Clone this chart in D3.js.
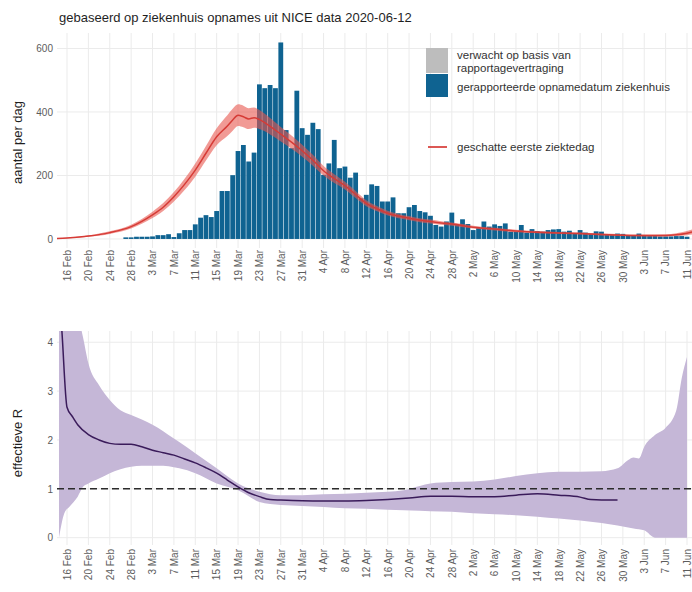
<!DOCTYPE html>
<html>
<head>
<meta charset="utf-8">
<script src="https://cdn.jsdelivr.net/npm/d3@7"></script>
<style>
  html, body { margin: 0; padding: 0; background: #fff; }
  svg { display: block; font-family: "Liberation Sans", Arial, sans-serif; }
</style>
</head>
<body>
<svg id="chart" width="692" height="592"></svg>
<script>
// ---------------- DATA ----------------
const titleText = "gebaseerd op ziekenhuis opnames uit NICE data 2020-06-12";
const baseDate = "2020-02-16"; // day 0

const tickDates = ["2020-02-16","2020-02-20","2020-02-24","2020-02-28","2020-03-03","2020-03-07","2020-03-11","2020-03-15","2020-03-19","2020-03-23","2020-03-27","2020-03-31","2020-04-04","2020-04-08","2020-04-12","2020-04-16","2020-04-20","2020-04-24","2020-04-28","2020-05-02","2020-05-06","2020-05-10","2020-05-14","2020-05-18","2020-05-22","2020-05-26","2020-05-30","2020-06-03","2020-06-07","2020-06-11"];
const tickLabels = ["16 Feb","20 Feb","24 Feb","28 Feb","3 Mar","7 Mar","11 Mar","15 Mar","19 Mar","23 Mar","27 Mar","31 Mar","4 Apr","8 Apr","12 Apr","16 Apr","20 Apr","24 Apr","28 Apr","2 May","6 May","10 May","14 May","18 May","22 May","26 May","30 May","3 Jun","7 Jun","11 Jun"];

const countTicks = [0, 200, 400, 600];
const rTicks = [0, 1, 2, 3, 4];

// daily hospital admissions by reported admission date, starting 2020-02-27
const barStart = "2020-02-27";
const admissions = [5,5,7,7,7,8,12,12,15,6,18,28,28,46,67,75,69,88,151,151,201,277,296,244,272,
  487,475,485,475,619,343,286,467,349,328,366,346,202,238,312,223,228,193,209,128,139,172,167,118,118,131,
  81,81,100,107,88,84,73,44,39,55,83,44,62,47,28,34,55,39,46,41,49,23,23,44,20,31,
  25,23,28,30,31,23,26,18,28,20,16,24,23,15,13,17,16,12,12,17,11,9,9,8,8,8,9,9,7];

// estimated first day of illness (days since baseDate), mean + band
const onsetDay  = [-2,0,4,8,12,16,18,20,22,24,26,28,30,31,32,33,34,35,36,38,40,42,44,46,48,50,52,54,56,58,60,62,64,66,68,70,72,76,80,84,88,92,96,100,104,108,112,114,116,117];
const onsetMean = [1,3,9,20,39,76,100,133,172,217,270,322,356,375,390,385,378,382,376,355,330,305,278,248,215,190,168,140,112,95,81,72,65,59,55,50,47,37,31,25,21,19,17,14,12,11,11,13,18,22];
const onsetLow  = [0,2,7,16,33,66,88,118,154,196,247,295,324,341,356,352,346,350,346,329,307,284,259,231,200,176,156,129,103,87,74,65,59,53,49,45,42,33,27,21,18,16,14,11,9,8,8,9,12,14];
const onsetHigh = [2,4,11,24,45,86,113,148,190,238,293,349,390,410,424,420,412,414,406,381,353,326,297,265,230,204,180,151,122,104,89,79,72,65,61,56,52,42,35,29,25,22,20,17,15,14,15,18,25,30];

// effective R (days since baseDate)
const rDay  = [-1.5,-1,0,1,2,4,6,8,10,12,14,16,18,20,22,24,26,28,30,32,34,36,38,40,44,48,52,56,60,64,68,72,76,80,84,88,92,96,98,100,103];
const rMean = [5.0,4.3,2.67,2.48,2.31,2.11,2.0,1.93,1.91,1.91,1.86,1.79,1.74,1.69,1.61,1.53,1.43,1.32,1.18,1.04,0.92,0.84,0.78,0.77,0.755,0.75,0.75,0.76,0.78,0.81,0.85,0.85,0.84,0.84,0.87,0.9,0.87,0.83,0.78,0.77,0.77];

const rBandDay   = [-1.5,-0.5,0.5,2,3,4,6,8,10,12,14,16,18,20,21,24,28,32,34,36,40,44,48,52,56,60,63,66,68,72,76,80,84,88,92,96,100,103,105,106,107,108,110,112,114,115,116];
const rBandUpper = [6,6,5.5,4.6,4.1,3.57,3.12,2.82,2.61,2.51,2.42,2.31,2.18,2.03,1.96,1.73,1.42,1.11,1.01,0.94,0.87,0.87,0.89,0.9,0.92,0.94,0.97,1.06,1.11,1.14,1.15,1.19,1.26,1.32,1.35,1.35,1.36,1.42,1.59,1.64,1.62,1.86,2.1,2.25,2.61,3.26,3.7];
const rBandLower = [0,0.5,0.64,0.84,1.04,1.11,1.21,1.32,1.40,1.45,1.47,1.47,1.47,1.44,1.42,1.32,1.11,0.97,0.85,0.73,0.67,0.65,0.63,0.6,0.59,0.57,0.56,0.55,0.54,0.53,0.5,0.48,0.46,0.43,0.39,0.35,0.3,0.25,0.21,0.19,0.17,0.15,0,0,0,0,0];

const legendItems = ["verwacht op basis van", "rapportagevertraging", "gerapporteerde opnamedatum ziekenhuis", "geschatte eerste ziektedag"];

// ---------------- STYLE / LAYOUT ----------------
const panelLeft = 57, panelRight = 692;
const top1 = 33, bottom1 = 248;
const top2 = 331, bottom2 = 545;
const gridCol = "#ebebeb";
const textCol = "#1f1f1f";
const tickCol = "#5c5c5c";
const barCol = "#0f6391";
const greyCol = "#bdbdbd";
const redCol = "#d63b36";
const redBand = "#e8574f";
const purpleBand = "#c5b7d7";
const purpleLine = "#3a1b5a";

const parse = d3.utcParse("%Y-%m-%d");
const base = parse(baseDate);
const dayDate = d => new Date(base.getTime() + d * 864e5);

const svg = d3.select("#chart");

const x = d3.scaleUtc().domain([parse("2020-02-16"), parse("2020-06-11")]).range([67, 687]);
const dayW = x(dayDate(1)) - x(dayDate(0));

const y1 = d3.scaleLinear().domain([-31, 651]).range([248.8, 32.3]);
const y2 = d3.scaleLinear().domain([-0.15, 4.23]).range([bottom2, top2]);

// clip paths
const defs = svg.append("defs");
defs.append("clipPath").attr("id", "clip1").append("rect")
  .attr("x", panelLeft).attr("y", top1).attr("width", panelRight - panelLeft).attr("height", bottom1 - top1);
defs.append("clipPath").attr("id", "clip2").append("rect")
  .attr("x", panelLeft).attr("y", top2).attr("width", panelRight - panelLeft).attr("height", bottom2 - top2);

// title
svg.append("text").attr("x", 59).attr("y", 22)
  .attr("fill", textCol).style("font-size", "13px").text(titleText);

function grid(top, bottom, yScale, yTicks) {
  const g = svg.append("g");
  g.selectAll("line.v").data(tickDates).join("line")
    .attr("x1", d => x(parse(d))).attr("x2", d => x(parse(d)))
    .attr("y1", top).attr("y2", bottom)
    .attr("stroke", gridCol).attr("stroke-width", 1);
  g.selectAll("line.h").data(yTicks).join("line")
    .attr("x1", panelLeft).attr("x2", panelRight)
    .attr("y1", d => yScale(d)).attr("y2", d => yScale(d))
    .attr("stroke", gridCol).attr("stroke-width", 1);
}

function xAxis(yPos) {
  const ax = d3.axisBottom(x)
    .tickValues(tickDates.map(parse))
    .tickFormat((d, i) => tickLabels[i])
    .tickSize(0);
  const g = svg.append("g").attr("transform", `translate(0,${yPos})`).call(ax);
  g.select(".domain").remove();
  g.selectAll("text")
    .attr("transform", "rotate(-90)")
    .attr("x", 0).attr("y", 0).attr("dy", "0.33em")
    .style("text-anchor", "end")
    .style("font-size", "10px")
    .style("font-family", "Liberation Sans, Arial, sans-serif")
    .attr("fill", tickCol);
}

function yAxis(scale, ticks, fmt) {
  const ax = d3.axisLeft(scale).tickValues(ticks).tickFormat(fmt).tickSize(0).tickPadding(0);
  const g = svg.append("g").attr("transform", `translate(53,0)`).call(ax);
  g.select(".domain").remove();
  g.selectAll("text")
    .style("font-size", "10px")
    .style("font-family", "Liberation Sans, Arial, sans-serif")
    .attr("fill", tickCol);
}

// ---------- TOP PANEL ----------
grid(top1, bottom1, y1, countTicks);

const p1 = svg.append("g").attr("clip-path", "url(#clip1)");
const barStartDate = parse(barStart);
const bars = admissions.map((v, i) => ({ date: d3.utcDay.offset(barStartDate, i), v }));
const bw = dayW * 0.9;
p1.selectAll("rect.bar").data(bars).join("rect")
  .attr("x", d => x(d.date) - bw / 2)
  .attr("width", bw)
  .attr("y", d => y1(d.v))
  .attr("height", d => y1(0) - y1(d.v))
  .attr("fill", barCol);

const onset = onsetDay.map((d, i) => ({ date: dayDate(d), m: onsetMean[i], lo: onsetLow[i], hi: onsetHigh[i] }));
p1.append("path").datum(onset)
  .attr("d", d3.area().x(d => x(d.date)).y0(d => y1(d.lo)).y1(d => y1(d.hi)).curve(d3.curveMonotoneX))
  .attr("fill", redBand).attr("fill-opacity", 0.6);
p1.append("path").datum(onset)
  .attr("d", d3.line().x(d => x(d.date)).y(d => y1(d.m)).curve(d3.curveMonotoneX))
  .attr("fill", "none").attr("stroke", redCol).attr("stroke-width", 1.5);

xAxis(250);
yAxis(y1, countTicks, d3.format("d"));

svg.append("text")
  .attr("transform", `translate(22,${(top1 + bottom1) / 2 + 2}) rotate(-90)`)
  .style("text-anchor", "middle").style("font-size", "13px").attr("fill", textCol)
  .text("aantal per dag");

// legend
const lg = svg.append("g");
lg.append("rect").attr("x", 426).attr("y", 48).attr("width", 22).attr("height", 25).attr("fill", greyCol);
lg.append("rect").attr("x", 426).attr("y", 74).attr("width", 22).attr("height", 23).attr("fill", barCol);
lg.append("line").attr("x1", 428).attr("x2", 447).attr("y1", 147).attr("y2", 147)
  .attr("stroke", redCol).attr("stroke-width", 2).attr("stroke-opacity", 0.85);
const lgPos = [[457, 59], [457, 72], [457, 91], [457, 151]];
lg.selectAll("text").data(legendItems).join("text")
  .attr("x", (d, i) => lgPos[i][0]).attr("y", (d, i) => lgPos[i][1])
  .style("font-size", "11.5px").attr("fill", "#333").text(d => d);

// ---------- BOTTOM PANEL ----------
grid(top2, bottom2, y2, rTicks);

const p2 = svg.append("g").attr("clip-path", "url(#clip2)");
const rBand = rBandDay.map((d, i) => ({ date: dayDate(d), lo: rBandLower[i], hi: rBandUpper[i] }));
p2.append("path").datum(rBand)
  .attr("d", d3.area().x(d => x(d.date)).y0(d => y2(d.lo)).y1(d => y2(d.hi)).curve(d3.curveMonotoneX))
  .attr("fill", purpleBand);

p2.append("line")
  .attr("x1", panelLeft).attr("x2", panelRight)
  .attr("y1", y2(1)).attr("y2", y2(1))
  .attr("stroke", "#2b2b2b").attr("stroke-width", 1.6).attr("stroke-dasharray", "7,4");

const rLine = rDay.map((d, i) => ({ date: dayDate(d), v: rMean[i] }));
p2.append("path").datum(rLine)
  .attr("d", d3.line().x(d => x(d.date)).y(d => y2(d.v)).curve(d3.curveMonotoneX))
  .attr("fill", "none").attr("stroke", purpleLine).attr("stroke-width", 1.5);

xAxis(549);
yAxis(y2, rTicks, d3.format("d"));

svg.append("text")
  .attr("transform", `translate(22,${(top2 + bottom2) / 2 + 5}) rotate(-90)`)
  .style("text-anchor", "middle").style("font-size", "13px").attr("fill", textCol)
  .text("effectieve R");
</script>
</body>
</html>
